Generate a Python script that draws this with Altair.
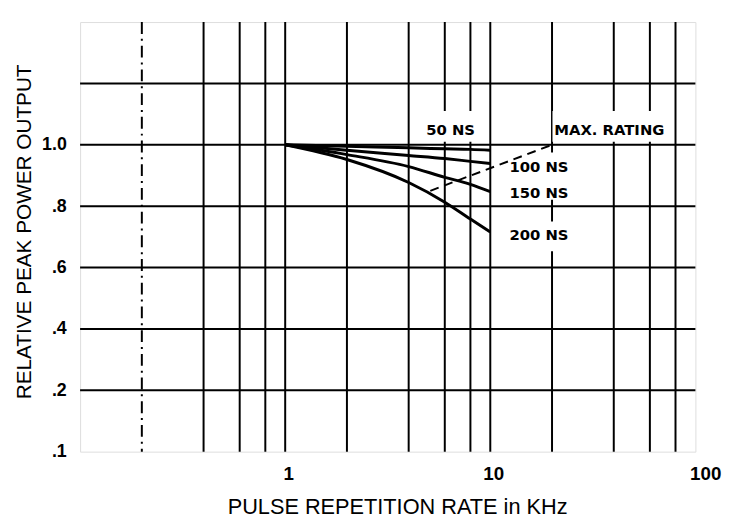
import altair as alt
import pandas as pd

# ---- data ----
freq = [1, 2, 4, 6, 8, 10]
ns50 = [1.0, 0.995, 0.99, 0.987, 0.985, 0.982]
ns100 = [1.0, 0.982, 0.965, 0.955, 0.946, 0.939]
ns150 = [1.0, 0.968, 0.929, 0.894, 0.871, 0.847]
ns200 = [1.0, 0.952, 0.877, 0.813, 0.758, 0.716]

max_rating_x = [5.1, 20]
max_rating_y = [0.85, 1.0]

x_grid = [0.4, 0.6, 0.8, 1, 2, 4, 6, 8, 10, 20, 40, 60, 80]
x_dashdot = [0.2]
y_grid = [0.2, 0.4, 0.6, 0.8, 1.0, 1.2]
x_ticks = [1, 10, 100]
y_ticks = [0.1, 0.2, 0.4, 0.6, 0.8, 1.0]

labels = ["50 NS", "MAX. RATING", "100 NS", "150 NS", "200 NS"]
label_x = [4.87, 20.5, 12.4, 12.4, 12.4]
label_y = [1.048, 1.048, 0.927, 0.843, 0.705]

# white label backgrounds that interrupt the grid lines (as on the original)
box_x1 = [4.74, 20.1, 12.0, 12.0]
box_x2 = [8.62, 74.9, 26.1, 26.1]
box_y1 = [1.01, 1.01, 0.821, 0.653]
box_y2 = [1.11, 1.11, 0.975, 0.75]

# ---- tables ----
rows = []
for name, vals in [("50 NS", ns50), ("100 NS", ns100), ("150 NS", ns150), ("200 NS", ns200)]:
    for f, v in zip(freq, vals):
        rows.append({"series": name, "f": f, "v": v})
curves = pd.DataFrame(rows)
maxr = pd.DataFrame({"f": max_rating_x, "v": max_rating_y})
xg = pd.DataFrame({"f": x_grid})
xdd = pd.DataFrame({"f": x_dashdot})
yg = pd.DataFrame({"v": y_grid})
ann = pd.DataFrame({"label": labels, "f": label_x, "v": label_y})
boxes = pd.DataFrame({"x1": box_x1, "x2": box_x2, "y1": box_y1, "y2": box_y2})

W, H = 623, 435
xscale = alt.Scale(type="log", domain=[0.1, 100], nice=False)
yscale = alt.Scale(type="linear", domain=[0.1, 0.2, 1.4], range=[H, H - H / 7, 0], nice=False, zero=False)

label_font = "Liberation Sans"

xaxis = alt.Axis(values=x_ticks, grid=False, ticks=False, domain=False, format="d",
                 labelFont=label_font, labelFontWeight="bold", labelFontSize=19, labelColor="black",
                 labelPadding=13, title="PULSE REPETITION RATE in KHz", titleFont=label_font,
                 titleFontSize=22, titleFontWeight="normal", titleColor="black", titlePadding=14,
                 titleX=321, titleAlign="center",
                 labelFlush=False,
                 labelOffset={"condition": {"test": "datum.value == 100", "value": 10}, "value": 3})
yaxis = alt.Axis(values=y_ticks, grid=False, ticks=False, domain=False,
                 labelExpr="datum.value >= 1 ? format(datum.value, '.1f') : replace(format(datum.value, '.1f'), '0.', '.')",
                 labelFont=label_font, labelFontWeight="bold", labelFontSize=18, labelColor="black",
                 labelPadding=14, title="RELATIVE PEAK POWER OUTPUT", titleFont=label_font,
                 titleFontSize=21, titleFontWeight="normal", titleColor="black", titlePadding=7,
                 titleY=212, titleAlign="center")

vgrid = alt.Chart(xg).mark_rule(color="black", strokeWidth=2).encode(
    x=alt.X("f:Q", scale=xscale, axis=xaxis))
ddgrid = alt.Chart(xdd).mark_rule(color="black", strokeWidth=2, strokeDash=[12, 5, 2, 5]).encode(
    x=alt.X("f:Q", scale=xscale))
hgrid = alt.Chart(yg).mark_rule(color="black", strokeWidth=2).encode(
    y=alt.Y("v:Q", scale=yscale, axis=yaxis))

bg = alt.Chart(boxes).mark_rect(color="white").encode(
    x=alt.X("x1:Q", scale=xscale), x2="x2:Q",
    y=alt.Y("y1:Q", scale=yscale), y2="y2:Q")

lines = alt.Chart(curves).mark_line(color="black", strokeWidth=3, interpolate="monotone").encode(
    x=alt.X("f:Q", scale=xscale),
    y=alt.Y("v:Q", scale=yscale),
    detail="series:N")

maxline = alt.Chart(maxr).mark_line(color="black", strokeWidth=2, strokeDash=[9, 6]).encode(
    x=alt.X("f:Q", scale=xscale),
    y=alt.Y("v:Q", scale=yscale))

text = alt.Chart(ann).mark_text(align="left", baseline="middle", font="DejaVu Sans",
                                fontWeight="bold", fontSize=15, color="black").encode(
    x=alt.X("f:Q", scale=xscale),
    y=alt.Y("v:Q", scale=yscale),
    text="label:N")

chart = alt.layer(vgrid, ddgrid, hgrid, bg, lines, maxline, text).properties(
    width=W, height=H, padding={"left": 5, "top": 10, "right": 5, "bottom": 0}
).configure_view(stroke="black", strokeWidth=3).configure(background="white")

chart.save("out.html", embed_options={"renderer": "svg", "actions": False})
